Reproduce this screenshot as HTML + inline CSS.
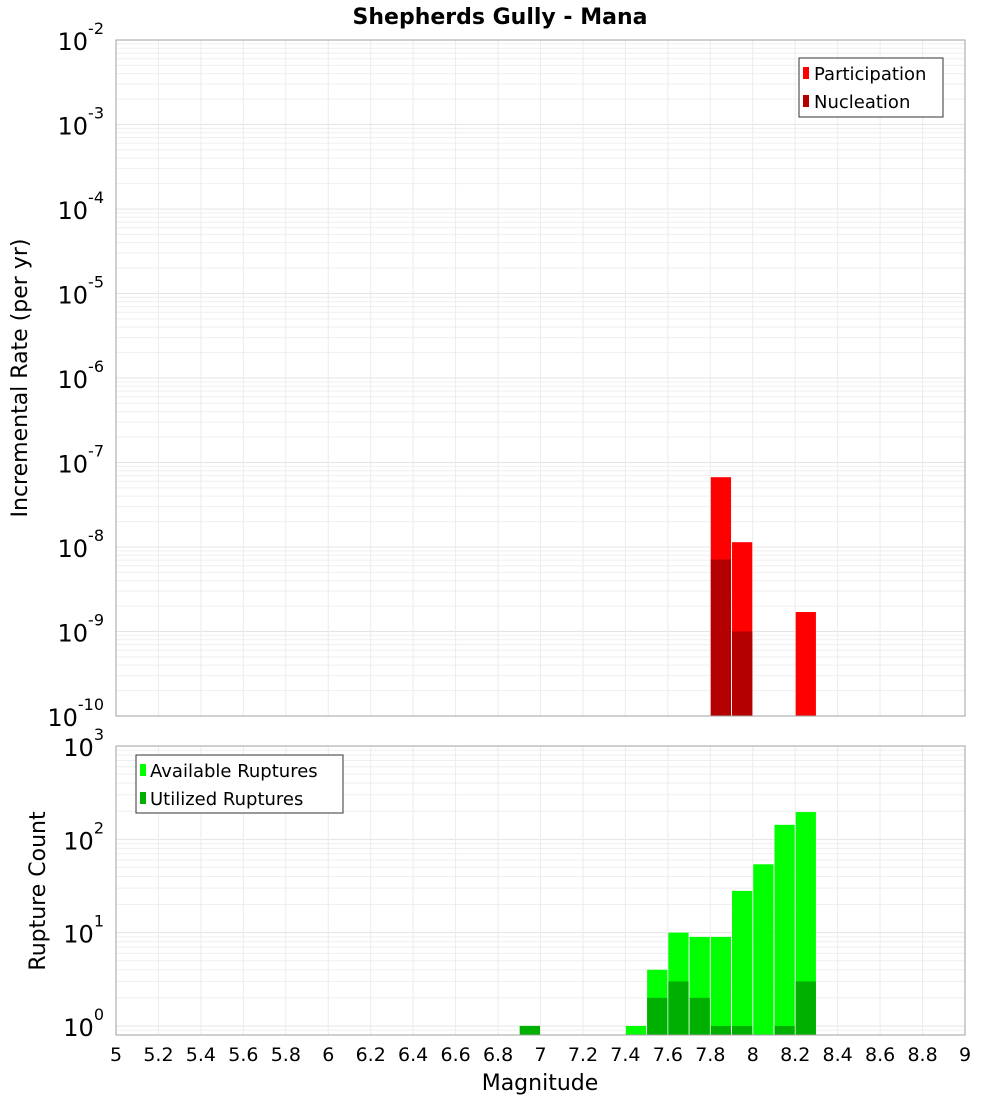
<!DOCTYPE html>
<html><head><meta charset="utf-8"><style>body{margin:0;background:#fff}svg{display:block;font-family:"DejaVu Sans","Liberation Sans",sans-serif}</style></head>
<body>
<svg id="c" width="1000" height="1100" xmlns="http://www.w3.org/2000/svg">
<text x="500" y="24" text-anchor="middle" font-size="22" font-weight="bold">Shepherds Gully - Mana</text>
</svg>
<script>
const mags = [6.95, 7.45, 7.55, 7.65, 7.75, 7.85, 7.95, 8.05, 8.15, 8.25];
const available = [1, 1, 4, 10, 9, 9, 28, 54, 143, 196];
const utilized = [1, 0, 2, 3, 2, 1, 1, 0, 1, 3];
const rateMags = [7.85, 7.95, 8.25];
const participation = [6.7e-8, 1.14e-8, 1.7e-9];
const nucleation = [7.1e-9, 1.0e-9, 0];
const xTicks = [5,5.2,5.4,5.6,5.8,6,6.2,6.4,6.6,6.8,7,7.2,7.4,7.6,7.8,8,8.2,8.4,8.6,8.8,9];

const svg = document.getElementById('c');
const NS = 'http://www.w3.org/2000/svg';
function el(tag, attrs, parent){const e=document.createElementNS(NS,tag);for(const k in attrs)e.setAttribute(k,attrs[k]);(parent||svg).appendChild(e);return e;}
const X0=116,X1=965;
const x = m => X0 + (m-5)/4*(X1-X0);
const BW = (X1-X0)/40;

function panel(top,bottom,decTop,decBot,yMinLog,name){
  const yf = v => bottom - (Math.log10(v)-yMinLog)/(decTop-yMinLog)*(bottom-top);
  const g = el('g',{});
  
  
  for(let d=Math.floor(yMinLog);d<decTop;d++){for(let k=1;k<10;k++){const v=k*Math.pow(10,d);const lv=Math.log10(v);if(lv<yMinLog||lv>decTop)continue;const y=yf(v);
    const ln=el('line',{x1:X0,x2:X1,y1:y,y2:y,stroke:k==1?'#e4e4e4':'#efefef','stroke-width':1},g);
    
    }}
  xTicks.forEach(t=>{const ln=el('line',{x1:x(t),x2:x(t),y1:top,y2:bottom,stroke:'#ececec'},g);
    
    });
  for(let d=decBot;d<=decTop;d++){const y=yf(Math.pow(10,d));
    const t=el('text',{x:104,y:y+10,'text-anchor':'end','font-size':24},g);
    
    
    t.textContent='10';
    const s=el('tspan',{dy:-16,'font-size':16},t);s.textContent=String(d);}
  return {yf,g};
}

// top panel
const P1 = panel(40,716,-2,-10,-10,'rate-panel');
participation.forEach((v,i)=>{const y=P1.yf(v);const r=el('rect',{x:x(rateMags[i])-BW/2+0.5,y:y,width:BW-1,height:716-y,fill:'#ff0000'});
  
  });
nucleation.forEach((v,i)=>{if(v<=0)return;const y=P1.yf(v);const r=el('rect',{x:x(rateMags[i])-BW/2+0.5,y:y,width:BW-1,height:716-y,fill:'#b40000'});
  
  });
el('rect',{x:X0,y:40,width:X1-X0,height:676,fill:'none',stroke:'#a0a0a0'});

// bottom panel
const P2 = panel(746,1035,3,0,Math.log10(0.8),'count-panel');
available.forEach((v,i)=>{if(v<=0)return;const y=P2.yf(v);const r=el('rect',{x:x(mags[i])-BW/2+0.5,y:y,width:BW-1,height:1035-y,fill:'#00ff00'});
  
  });
utilized.forEach((v,i)=>{if(v<=0)return;const y=P2.yf(v);const r=el('rect',{x:x(mags[i])-BW/2+0.5,y:y,width:BW-1,height:1035-y,fill:'#00b000'});
  
  });
el('rect',{x:X0,y:746,width:X1-X0,height:289,fill:'none',stroke:'#a0a0a0'});

xTicks.forEach(t=>{const tx=el('text',{x:x(t),y:1061,'text-anchor':'middle','font-size':19});
  
  
  tx.textContent=String(t);});
</script>
<svg style="position:absolute;left:0;top:0" width="1000" height="1100" xmlns="http://www.w3.org/2000/svg" font-family="DejaVu Sans, Liberation Sans, sans-serif">
<text x="540" y="1090" text-anchor="middle" font-size="22">Magnitude</text>
<text transform="translate(27,378) rotate(-90)" text-anchor="middle" font-size="22">Incremental Rate (per yr)</text>
<text transform="translate(45,891) rotate(-90)" text-anchor="middle" font-size="22">Rupture Count</text>
<g>
<rect x="799" y="58" width="144" height="59" fill="#fff" stroke="#333"/>
<rect x="803" y="67" width="6" height="12" fill="#ff0000"/><text x="814" y="80" font-size="18">Participation</text>
<rect x="803" y="95" width="6" height="12" fill="#b40000"/><text x="814" y="108" font-size="18">Nucleation</text>
</g>
<g>
<rect x="136" y="755" width="207" height="58" fill="#fff" stroke="#333"/>
<rect x="140" y="764" width="6" height="12" fill="#00ff00"/><text x="150" y="777" font-size="18">Available Ruptures</text>
<rect x="140" y="792" width="6" height="12" fill="#00b000"/><text x="150" y="805" font-size="18">Utilized Ruptures</text>
</g>
</svg>
</body></html>
